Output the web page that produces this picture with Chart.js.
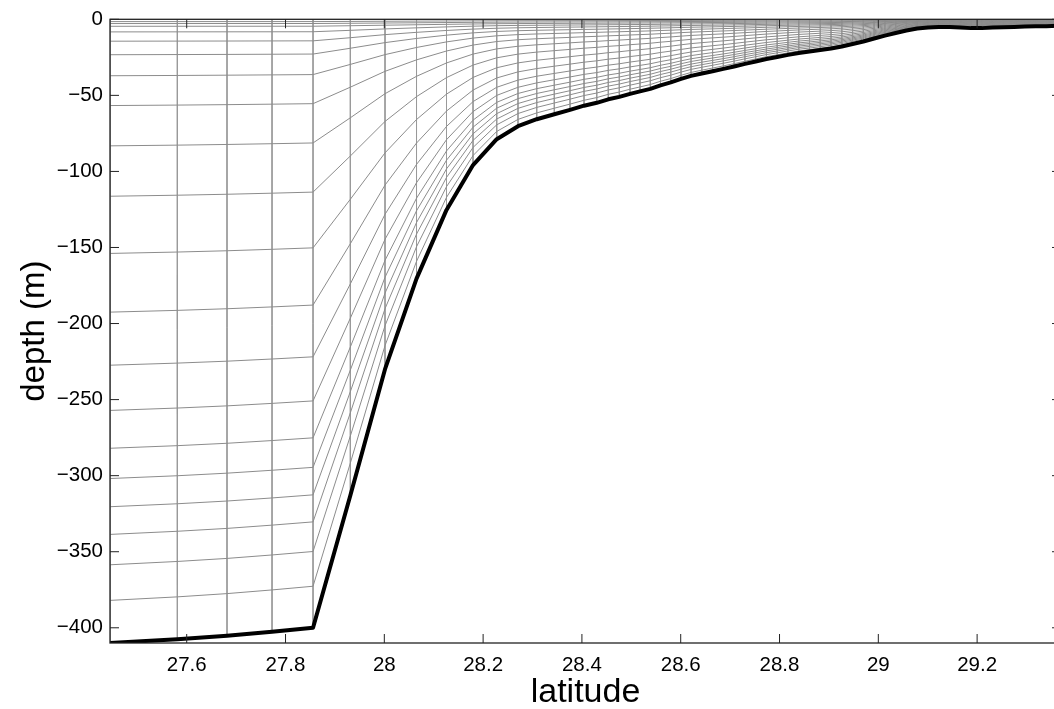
<!DOCTYPE html>
<html>
<head>
<meta charset="utf-8">
<script src="https://cdn.jsdelivr.net/npm/chart.js@4"></script>
<style>
  html, body { margin: 0; padding: 0; background: #fff; overflow: hidden; }
  canvas { display: block; }
</style>
</head>
<body>
<canvas id="myChart" width="1066" height="709"></canvas>
<script>
// grid columns (latitude) and bottom depth (m)
var lat = [27.4447, 27.581, 27.6816, 27.7727, 27.8557, 27.9312, 28.0014, 28.0652, 28.1259, 28.1796,
    28.2275, 28.2706, 28.3085, 28.3441, 28.3759, 28.4043, 28.4300, 28.4534, 28.4757, 28.4974,
    28.5176, 28.5385, 28.5591, 28.5798, 28.6006, 28.6209, 28.6427, 28.6645, 28.6863, 28.7081,
    28.7299, 28.7517, 28.7735, 28.7953, 28.8171, 28.8389, 28.8607, 28.8825, 28.9043, 28.9261,
    28.9479, 28.9697, 28.9915, 29.0133, 29.0351, 29.0569, 29.0787, 29.1005, 29.1223, 29.1441,
    29.1659, 29.1877, 29.2095, 29.2313, 29.2531, 29.2749, 29.2967, 29.3185, 29.3403, 29.3621];
var depth = [410, 407.5, 405.2, 402.6, 400, 313, 230, 170.5, 125.3, 95.8,
    78.8, 70.3, 65.7, 62.4, 59.5, 56.8, 54.9, 52.6, 51, 49,
    47.4, 45.7, 43.4, 41.5, 39.2, 37.2, 35.6, 34.1, 32.6, 31,
    29.3, 27.7, 26.1, 24.8, 23.4, 22.1, 21.2, 20.2, 19.2, 17.9,
    16.2, 14.6, 12.6, 10.7, 9.0, 7.4, 6.1, 5.4, 5.0, 5.1,
    5.4, 5.8, 5.8, 5.4, 5.2, 5.0, 4.8, 4.6, 4.5, 4.3];
// level positions as fraction of depth, read at the deep column (410 m)
var levelFrac = [0, 0.0037, 0.0068, 0.0112, 0.0202, 0.0351, 0.0568, 0.0905, 0.1383, 0.2029, 0.2837,
    0.3754, 0.4695, 0.5546, 0.6271, 0.6878, 0.7363, 0.7815, 0.8259, 0.8746, 0.9317, 1];
var deepH = 410;
var hc = 25;

var xTicks = [27.6, 27.8, 28, 28.2, 28.4, 28.6, 28.8, 29, 29.2];
var yTicks = [-400, -350, -300, -250, -200, -150, -100, -50, 0];

// sigma levels (stretching recovered from the deep column)
var N = levelFrac.length - 1;
var Cs = levelFrac.map(function (f, k) { return (f * (hc + deepH) - hc * k / N) / deepH; });
function zLevel(k, h) { return -h * (hc * k / N + h * Cs[k]) / (hc + h); }

var levelPts = [];
for (var k = 0; k < N; k++) {
    for (var i = 0; i < lat.length; i++) levelPts.push({x: lat[i], y: zLevel(k, depth[i])});
    levelPts.push({x: lat[lat.length - 1], y: null});
}
var colPts = [];
for (var i = 0; i < lat.length; i++) {
    colPts.push({x: lat[i], y: 0});
    colPts.push({x: lat[i], y: -depth[i]});
    colPts.push({x: lat[i], y: null});
}
var bottomPts = lat.map(function (v, i) { return {x: v, y: -depth[i]}; });

// box + inward ticks like the original figure
var frame = {
    id: 'frame',
    afterDatasetsDraw: function (chart) {
        var ctx = chart.ctx, a = chart.chartArea, xs = chart.scales.x, ys = chart.scales.y;
        var len = 9;
        ctx.save();
        ctx.strokeStyle = '#222';
        ctx.lineWidth = 1;
        ctx.beginPath();
        xTicks.forEach(function (v) {
            var p = xs.getPixelForValue(v);
            ctx.moveTo(p, a.bottom); ctx.lineTo(p, a.bottom - len);
            ctx.moveTo(p, a.top); ctx.lineTo(p, a.top + len);
        });
        yTicks.forEach(function (v) {
            var p = ys.getPixelForValue(v);
            ctx.moveTo(a.left, p); ctx.lineTo(a.left + len, p);
            ctx.moveTo(a.right, p); ctx.lineTo(a.right - len, p);
        });
        ctx.stroke();
        ctx.lineWidth = 1.3;
        ctx.strokeRect(a.left, a.top, a.right - a.left, a.bottom - a.top);
        ctx.restore();
    }
};

var font = "'Liberation Sans', Arial, Helvetica, sans-serif";
var ctx = document.getElementById("myChart").getContext("2d");
var myChart = new Chart(ctx, {
    type: 'scatter',
    data: {
        datasets: [
            {data: bottomPts, showLine: true, borderColor: '#000', borderWidth: 4, pointRadius: 0,
                borderJoinStyle: 'round', order: 0},
            {data: levelPts, showLine: true, borderColor: '#8c8c8c', borderWidth: 1, pointRadius: 0,
                spanGaps: false, order: 1},
            {data: colPts, showLine: true, borderColor: '#9a9a9a', borderWidth: 1, pointRadius: 0,
                spanGaps: false, order: 2}
        ]
    },
    options: {
        responsive: false,
        animation: false,
        devicePixelRatio: 1,
        layout: {padding: {left: 0, top: 17, right: 5, bottom: 0}},
        plugins: {legend: {display: false}, tooltip: {enabled: false}},
        scales: {
            x: {
                type: 'linear', min: 27.4447, max: 29.3698,
                afterBuildTicks: function (s) { s.ticks = xTicks.map(function (v) { return {value: v}; }); },
                afterFit: function (s) { s.height = 66; },
                grid: {display: false, drawTicks: false},
                border: {display: false},
                ticks: {color: '#000', font: {family: font, size: 20.5}, padding: 10, maxRotation: 0, autoSkip: false,
                    callback: function (v) { return String(+v.toFixed(1)); }},
                title: {display: true, text: 'latitude', color: '#000', font: {family: font, size: 34},
                    padding: {top: 0, bottom: -4}}
            },
            y: {
                type: 'linear', min: -410, max: 0,
                afterBuildTicks: function (s) { s.ticks = yTicks.map(function (v) { return {value: v}; }); },
                afterFit: function (s) { s.width = 110; },
                grid: {display: false, drawTicks: false},
                border: {display: false},
                ticks: {color: '#000', font: {family: font, size: 20.5}, padding: 7, autoSkip: false,
                    callback: function (v) { return v < 0 ? '\u2212' + Math.abs(v) : String(v); }},
                title: {display: true, text: 'depth (m)', color: '#000', font: {family: font, size: 33},
                    padding: {top: 15, bottom: 0}}
            }
        }
    },
    plugins: [frame]
});
</script>
</body>
</html>
